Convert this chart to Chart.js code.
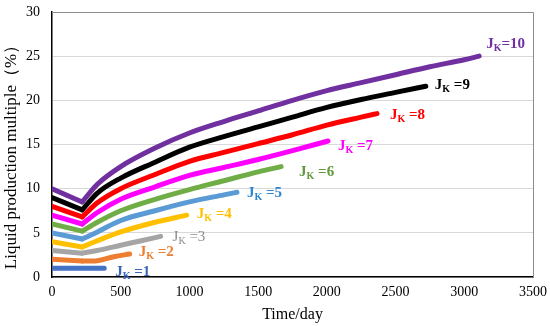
<!DOCTYPE html>
<html lang="en">
<head>
    <meta charset="UTF-8">
    <title>Liquid production multiple</title>
    <script src="https://cdn.jsdelivr.net/npm/chart.js"></script>
    <style>
        html, body { margin: 0; padding: 0; background: #fff; }
        #wrap { width: 550px; height: 326px; }
    </style>
</head>
<body>
    <div id="wrap"><canvas id="chart"></canvas></div>

    <script>
        // days and liquid production multiple per J_K
        const days1 = [0, 380];
        const vals1 = [1.0, 1.0];
        const days2 = [0, 220, 300, 450, 565];
        const vals2 = [2.0, 1.8, 1.8, 2.3, 2.6];
        const days3 = [0, 220, 330, 500, 650, 790];
        const vals3 = [3.0, 2.7, 3.0, 3.6, 4.1, 4.6];
        const days4 = [0, 220, 330, 500, 750, 980];
        const vals4 = [4.0, 3.4, 4.1, 5.1, 6.2, 7.0];
        const days5 = [0, 220, 330, 500, 750, 1000, 1250, 1346];
        const vals5 = [5.0, 4.3, 5.1, 6.4, 7.5, 8.5, 9.3, 9.6];
        const days6 = [0, 220, 330, 500, 750, 1000, 1250, 1500, 1667];
        const vals6 = [6.0, 5.2, 6.2, 7.5, 8.8, 9.9, 10.9, 11.9, 12.5];
        const days7 = [0, 220, 330, 500, 750, 1000, 1250, 1500, 1750, 2008];
        const vals7 = [7.0, 6.0, 7.3, 8.8, 10.2, 11.5, 12.4, 13.3, 14.3, 15.4];
        const days8 = [0, 220, 330, 500, 750, 1000, 1250, 1500, 1750, 2000, 2250, 2365];
        const vals8 = [8.0, 6.8, 8.4, 10.0, 11.6, 13.1, 14.1, 15.1, 16.1, 17.2, 18.1, 18.5];
        const days9 = [0, 220, 330, 500, 750, 1000, 1250, 1500, 1750, 2000, 2250, 2500, 2720];
        const vals9 = [9.0, 7.6, 9.5, 11.2, 13.0, 14.7, 15.9, 17.0, 18.1, 19.2, 20.1, 20.9, 21.6];
        const days10 = [0, 220, 330, 500, 750, 1000, 1250, 1500, 1750, 2000, 2250, 2500, 2750, 3000, 3108];
        const vals10 = [10.0, 8.5, 10.5, 12.5, 14.6, 16.3, 17.6, 18.8, 20.0, 21.1, 22.0, 22.9, 23.8, 24.6, 25.0];

        const jkValues = [1, 2, 3, 4, 5, 6, 7, 8, 9, 10];
        const allDays = [days1, days2, days3, days4, days5, days6, days7, days8, days9, days10];
        const allVals = [vals1, vals2, vals3, vals4, vals5, vals6, vals7, vals8, vals9, vals10];

        const xTicks = [0, 500, 1000, 1500, 2000, 2500, 3000, 3500];
        const yTicks = [0, 5, 10, 15, 20, 25, 30];

        const colors = ["#4472C4", "#ED7D31", "#A5A5A5", "#FFC000", "#5B9BD5",
                        "#70AD47", "#FF00FF", "#FF0000", "#000000", "#7030A0"];
        const labelColors = ["#3A66B8", "#ED7D31", "#8C8C8C", "#FFC000", "#2E86D0",
                             "#62993F", "#FF00FF", "#FF0000", "#000000", "#7030A0"];
        // label offset from the end of each line (px)
        const labelOffsets = [[11, 3], [9, -3], [12, 0], [10, -2], [10, 0],
                              [18, 4], [10, 4], [13, 0], [9, -2], [7, -13]];

        const lineStyle = (c) => ({
            borderColor: c,
            backgroundColor: c,
            borderWidth: 5,
            pointRadius: 0,
            borderCapStyle: "round",
            borderJoinStyle: "round",
            fill: false
        });

        // each curve: a straight drop to the turning point, then a smooth rise
        const datasets = [];
        const labelIndex = [];
        jkValues.forEach((k, i) => {
            const pts = allDays[i].map((d, j) => ({ x: d, y: allVals[i][j] }));
            if (pts.length > 2) {
                datasets.push(Object.assign({ label: "drop" + k, data: pts.slice(0, 2), tension: 0 }, lineStyle(colors[i])));
                datasets.push(Object.assign({ label: "JK=" + k, data: pts.slice(1), cubicInterpolationMode: "monotone" }, lineStyle(colors[i])));
            } else {
                datasets.push(Object.assign({ label: "JK=" + k, data: pts, tension: 0 }, lineStyle(colors[i])));
            }
            labelIndex.push(datasets.length - 1);
        });

        const serif = "'Liberation Serif', 'Times New Roman', serif";

        function k2text(k) {
            return k === 10 ? "=10" : " =" + k;
        }

        const lineLabels = {
            id: "lineLabels",
            beforeDatasetsDraw(chart) {
                const { ctx, chartArea: a } = chart;
                ctx.save();
                ctx.strokeStyle = "#8c8c8c";
                ctx.lineWidth = 1;
                ctx.beginPath();
                ctx.moveTo(a.left, a.top + 0.5);
                ctx.lineTo(a.right + 0.5, a.top + 0.5);
                ctx.lineTo(a.right + 0.5, a.bottom);
                ctx.stroke();
                ctx.restore();
            },
            afterDatasetsDraw(chart) {
                const ctx = chart.ctx;
                ctx.save();
                labelIndex.forEach((di, i) => {
                    const meta = chart.getDatasetMeta(di);
                    const last = meta.data[meta.data.length - 1];
                    let x = last.x + labelOffsets[i][0];
                    const y = last.y + labelOffsets[i][1];
                    const weight = i === 2 ? "normal" : "bold";
                    ctx.fillStyle = labelColors[i];
                    ctx.textBaseline = "alphabetic";
                    ctx.textAlign = "left";
                    ctx.font = weight + " 15px " + serif;
                    ctx.fillText("J", x, y + 5);
                    x += ctx.measureText("J").width;
                    ctx.font = weight + " 10px " + serif;
                    ctx.fillText("K", x, y + 8);
                    x += ctx.measureText("K").width;
                    ctx.font = weight + " 15px " + serif;
                    ctx.fillText(k2text(jkValues[i]), x, y + 5);
                });
                ctx.restore();
            }
        };

        new Chart(document.getElementById("chart").getContext("2d"), {
            type: "line",
            data: { datasets: datasets },
            options: {
                responsive: true,
                maintainAspectRatio: false,
                animation: false,
                layout: { padding: { left: 0, right: 17, top: 12, bottom: 2 } },
                plugins: {
                    legend: { display: false },
                    tooltip: { enabled: false }
                },
                scales: {
                    x: {
                        type: "linear",
                        min: 0,
                        max: 3500,
                        afterBuildTicks: s => { s.ticks = xTicks.map(v => ({ value: v })); },
                        afterFit: s => { s.height = 47; s.paddingLeft = 0; s.paddingRight = 0; },
                        ticks: {
                            color: "#000",
                            padding: 7,
                            maxRotation: 0,
                            callback: v => String(v),
                            font: { family: serif, size: 14 }
                        },
                        grid: { display: false, drawTicks: false },
                        border: { color: "#000", width: 1.5 },
                        title: {
                            display: true,
                            text: "Time/day",
                            color: "#000",
                            padding: { top: 2, bottom: 0 },
                            font: { family: serif, size: 16 }
                        }
                    },
                    y: {
                        min: 0,
                        max: 30,
                        afterBuildTicks: s => { s.ticks = yTicks.map(v => ({ value: v })); },
                        afterFit: s => { s.width = 52; s.paddingTop = 0; s.paddingBottom = 0; },
                        ticks: {
                            color: "#000",
                            padding: 12,
                            callback: v => String(v),
                            font: { family: serif, size: 14 }
                        },
                        grid: { color: "#d9d9d9", lineWidth: 1, drawTicks: false },
                        border: { color: "#000", width: 1.5 },
                        title: {
                            display: true,
                            text: "Liquid production multiple（%）\u3000",
                            color: "#000",
                            padding: { top: 1, bottom: 1 },
                            font: { family: serif, size: 17 }
                        }
                    }
                }
            },
            plugins: [lineLabels]
        });
    </script>
</body>
</html>
